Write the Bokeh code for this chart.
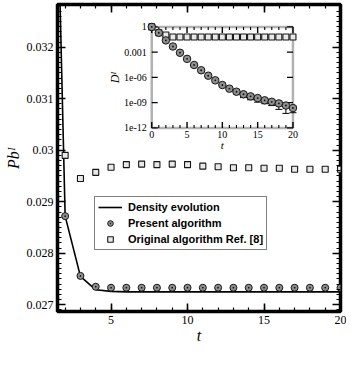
import numpy as np
from bokeh.plotting import figure
from bokeh.models import (Range1d, LinearAxis, SingleIntervalTicker, CustomJSTickFormatter,
                          Legend, LegendItem, Whisker, ColumnDataSource, TeeHead, LogScale,
                          BoxAnnotation)
from bokeh.core.properties import value
from bokeh.embed import file_html
from bokeh.resources import INLINE

# ---------------- data ----------------
t_density = [1, 2, 3, 4, 5, 6, 7, 8, 9, 10, 11, 12, 13, 14, 15, 16, 17, 18, 19, 20]
density_evolution = [0.0411, 0.02872, 0.02755, 0.02729, 0.02726, 0.02725, 0.02725, 0.02725,
                     0.02725, 0.02725, 0.02725, 0.02725, 0.02725, 0.02725, 0.02725, 0.02725,
                     0.02725, 0.02725, 0.02725, 0.02725]

t_main = [2, 3, 4, 5, 6, 7, 8, 9, 10, 11, 12, 13, 14, 15, 16, 17, 18, 19, 20]
present_alg = [0.02872, 0.02756, 0.02735, 0.02733, 0.02733, 0.02733, 0.02733, 0.02733,
               0.02733, 0.02733, 0.02733, 0.02733, 0.02733, 0.02733, 0.02733, 0.02733,
               0.02733, 0.02733, 0.02733]
original_alg = [0.02990, 0.02945, 0.02957, 0.02967, 0.02972, 0.02973, 0.02972, 0.02973,
                0.02972, 0.02969, 0.02968, 0.02966, 0.02966, 0.02965, 0.02965, 0.02963,
                0.02963, 0.02963, 0.02963]
original_err = [0, 0, 1e-5, 3e-5, 0, 1.5e-5, 0, 2.5e-5, 2e-5, 0, 3.5e-5, 0, 0, 0, 3e-5,
                0, 0, 0, 3e-5]

t_inset = [0, 1, 2, 3, 4, 5, 6, 7, 8, 9, 10, 11, 12, 13, 14, 15, 16, 17, 18, 19, 20]
D_present = [1.0, 2.0e-1, 2.5e-2, 4.7e-3, 8.5e-4, 1.6e-4, 3.0e-5, 7.1e-6, 1.6e-6, 4.5e-7,
             1.26e-7, 4.6e-8, 2.0e-8, 1.0e-8, 5.6e-9, 3.5e-9, 1.9e-9, 1.26e-9, 8.1e-10,
             4.6e-10, 2.3e-10]
D_present_err = [0, 0, 0, 0, 0, 0, 0, 0, 0, 0, 0, 0, 8.7e-9, 6.0e-9, 3.4e-9, 2.35e-9,
                 1.15e-9, 8.1e-10, 6.5e-10, 4.07e-10, 1.66e-10]
D_original = [1.0, 2.0e-1, 1.1e-1, 6.3e-2, 6.3e-2, 6.3e-2, 6.3e-2, 6.3e-2, 6.3e-2, 6.3e-2,
              6.3e-2, 6.3e-2, 6.3e-2, 6.3e-2, 6.3e-2, 6.3e-2, 6.3e-2, 6.3e-2, 6.3e-2,
              6.3e-2, 6.3e-2]

# inset axes (ticks and their labels)
inset_major_t = [0, 5, 10, 15, 20]
inset_major_t_labels = ["0", "5", "10", "15", "20"]
inset_minor_t = [1, 2, 3, 4, 6, 7, 8, 9, 11, 12, 13, 14, 16, 17, 18, 19]
inset_D_ticks = [1e-12, 1e-9, 1e-6, 1e-3, 1.0]
inset_D_labels = ["1e-12", "1e-09", "1e-06", "0.001", "1"]

legend_labels = ["Density evolution", "Present algorithm", "Original algorithm Ref. [8]"]

SERIF = "Liberation Serif"
SANS = "Liberation Sans"
CIRCLE_FILL = "#8f8f8f"
DARK = "#151515"

# main frame and ranges
MX0, MX1 = 1.5, 20.0
MY0, MY1 = 0.026869, 0.032828
FW, FH = 283, 307
# placement of the inset frame, as fractions of the main frame
INSET_FX = (0.333, 0.832)
INSET_FY = (0.598, 0.927)


def style_axis(ax, size, labels=True, tick_in=8, minor_in=4, standoff=4, tw=1.6):
    ax.axis_line_color = None
    ax.major_tick_in = tick_in
    ax.major_tick_out = 0
    ax.minor_tick_in = minor_in
    ax.minor_tick_out = 0
    ax.major_tick_line_width = tw
    ax.minor_tick_line_width = 1.2
    ax.major_tick_line_color = "black"
    ax.minor_tick_line_color = "black"
    if labels:
        ax.major_label_text_font = SERIF
        ax.major_label_text_font_size = size
        ax.major_label_text_color = "black"
        ax.major_label_standoff = standoff
    else:
        ax.major_label_text_font_size = "0px"
        ax.major_label_standoff = 0
    return ax


p = figure(frame_width=FW, frame_height=FH,
           x_range=Range1d(MX0, MX1), y_range=Range1d(MY0, MY1),
           x_axis_location=None, y_axis_location=None,
           min_border_left=57, min_border_right=6, min_border_top=4, min_border_bottom=38,
           output_backend="svg", toolbar_location=None,
           background_fill_color="white", border_fill_color="white",
           outline_line_color="black", outline_line_width=3.5)
p.xgrid.visible = False
p.ygrid.visible = False

# ---- main axes ----
mx_ticker = SingleIntervalTicker(interval=5, num_minor_ticks=5)
my_ticker = SingleIntervalTicker(interval=0.001, num_minor_ticks=10)
my_fmt = CustomJSTickFormatter(code="return String(Math.round(tick * 10000) / 10000);")
xb = style_axis(LinearAxis(ticker=mx_ticker), "12px", True, 8, 4, 4)
xb.axis_label = "t"
xb.axis_label_standoff = 0
yl = style_axis(LinearAxis(ticker=my_ticker, formatter=my_fmt), "12px", True, 8, 4, 4)
yl.axis_label = "Pb\u1D35"
yl.axis_label_standoff = 2
for ax in (xb, yl):
    ax.axis_label_text_font = SERIF
    ax.axis_label_text_font_size = "16px"
    ax.axis_label_text_font_style = "italic"
    ax.axis_label_text_color = "black"
p.add_layout(xb, "below")
p.add_layout(yl, "left")
p.add_layout(style_axis(LinearAxis(ticker=mx_ticker), "12px", False, 8, 4, 0), "above")
p.add_layout(style_axis(LinearAxis(ticker=my_ticker), "12px", False, 8, 4, 0), "right")

# ---- inset coordinate system inside the main frame ----
ix_span = 20.0 / (INSET_FX[1] - INSET_FX[0])
ix_lo = 0.0 - INSET_FX[0] * ix_span
iy_span = 12.0 / (INSET_FY[1] - INSET_FY[0])
iy_lo = -12.0 - INSET_FY[0] * iy_span
p.extra_x_ranges = {"ix": Range1d(ix_lo, ix_lo + ix_span)}
p.extra_y_ranges = {"iy": Range1d(10 ** iy_lo, 10 ** (iy_lo + iy_span))}
p.extra_y_scales = {"iy": LogScale()}
px_per_t = (INSET_FX[1] - INSET_FX[0]) * FW / 20.0
px_per_dec = (INSET_FY[1] - INSET_FY[0]) * FH / 12.0


def shift_y(v, px):
    return v * 10 ** (px / px_per_dec)


def shift_x(v, px):
    return v + px / px_per_t


IR = dict(x_range_name="ix", y_range_name="iy")

p.add_layout(BoxAnnotation(left=0, right=20, bottom=1e-12, top=1.0, fill_color="white",
                           fill_alpha=1.0, line_color="black", line_width=2.5,
                           level="underlay", **IR))

# inset ticks
def tick_segments(xs0, xs1, ys0, ys1, w):
    p.segment(x0=xs0, x1=xs1, y0=ys0, y1=ys1, line_color="black", line_width=w, **IR)


tick_segments(inset_major_t, inset_major_t, [1e-12] * 5, [shift_y(1e-12, 6)] * 5, 1.4)
tick_segments(inset_major_t, inset_major_t, [1.0] * 5, [shift_y(1.0, -6)] * 5, 1.4)
n = len(inset_minor_t)
tick_segments(inset_minor_t, inset_minor_t, [1e-12] * n, [shift_y(1e-12, 3)] * n, 1.1)
tick_segments(inset_minor_t, inset_minor_t, [1.0] * n, [shift_y(1.0, -3)] * n, 1.1)
m = len(inset_D_ticks)
tick_segments([0] * m, [shift_x(0, 6)] * m, inset_D_ticks, inset_D_ticks, 1.4)
tick_segments([20] * m, [shift_x(20, -6)] * m, inset_D_ticks, inset_D_ticks, 1.4)

# inset tick labels and titles
p.text(x=inset_major_t, y=[shift_y(1e-12, -3)] * 5, text=inset_major_t_labels,
       text_align="center", text_baseline="top", text_font=value(SERIF),
       text_font_size="10px", text_color="black", **IR)
p.text(x=[shift_x(0, -5)] * m, y=inset_D_ticks, text=inset_D_labels,
       text_align="right", text_baseline="middle", text_font=value(SERIF),
       text_font_size="10px", text_color="black", **IR)
p.text(x=[shift_x(0, -37)], y=[1e-6], text=["D\u1D35"], angle=np.pi / 2,
       text_align="center", text_baseline="middle", text_font=value(SERIF),
       text_font_style="italic", text_font_size="12px", text_color="black", **IR)
p.text(x=[10], y=[shift_y(1e-12, -17)], text=["t"],
       text_align="center", text_baseline="middle", text_font=value(SERIF),
       text_font_style="italic", text_font_size="11px", text_color="black", **IR)

# inset data
ierr_t = [t for t, e in zip(t_inset, D_present_err) if e > 0]
ierr_lo = [v - e for v, e in zip(D_present, D_present_err) if e > 0]
ierr_hi = [v + e for v, e in zip(D_present, D_present_err) if e > 0]
isrc = ColumnDataSource(dict(base=ierr_t, lower=ierr_lo, upper=ierr_hi))
p.add_layout(Whisker(source=isrc, base="base", lower="lower", upper="upper",
                     dimension="height", line_color="black", line_width=1,
                     upper_head=TeeHead(size=7, line_width=1, line_color="black"),
                     lower_head=TeeHead(size=7, line_width=1, line_color="black"), **IR))
p.scatter(t_inset, D_original, marker="square", size=6, fill_color="#e8e8e8",
          line_color=DARK, line_width=1.1, **IR)
p.scatter(t_inset, D_present, marker="circle_dot", size=7.5, fill_color=CIRCLE_FILL,
          line_color=DARK, line_width=1, **IR)

# ---- main data ----
merr_t = [t for t, e in zip(t_main, original_err) if e > 0]
merr_lo = [v - e for v, e in zip(original_alg, original_err) if e > 0]
merr_hi = [v + e for v, e in zip(original_alg, original_err) if e > 0]
msrc = ColumnDataSource(dict(base=merr_t, lower=merr_lo, upper=merr_hi))
p.add_layout(Whisker(source=msrc, base="base", lower="lower", upper="upper",
                     dimension="height", line_color="black", line_width=1,
                     upper_head=TeeHead(size=5, line_width=1, line_color="black"),
                     lower_head=TeeHead(size=5, line_width=1, line_color="black")))

r_line = p.line(t_density, density_evolution, line_color="black", line_width=1.6)
r_orig = p.scatter(t_main, original_alg, marker="square", size=6, fill_color="#e8e8e8",
                   line_color=DARK, line_width=1.1)
r_pres = p.scatter(t_main, present_alg, marker="circle_dot", size=7, fill_color=CIRCLE_FILL,
                   line_color=DARK, line_width=1)

legend = Legend(items=[LegendItem(label=legend_labels[0], renderers=[r_line]),
                       LegendItem(label=legend_labels[1], renderers=[r_pres]),
                       LegendItem(label=legend_labels[2], renderers=[r_orig])],
                location=(37, 61), padding=3, spacing=2,
                glyph_width=24, glyph_height=14, label_height=14, label_standoff=6,
                label_text_font=SANS, label_text_font_style="bold",
                label_text_font_size="11px", label_text_color="black",
                border_line_color="black", border_line_width=1.5,
                background_fill_color="white", background_fill_alpha=1.0)
p.add_layout(legend)

open("out.html", "w").write(file_html(p, INLINE))
